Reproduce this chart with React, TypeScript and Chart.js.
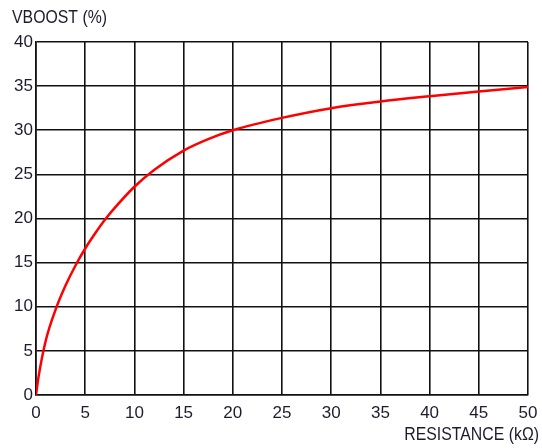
import React, { useEffect, useRef } from "react";
import { Chart, registerables } from "chart.js";

Chart.register(...registerables);

const resistance = [0, 0.25, 1, 2, 3, 4, 5, 6, 7, 8, 10, 12, 15, 17.5, 20, 25, 30, 35, 40, 45, 50];
const vboost = [0, 2, 6.2, 9.7, 12.4, 14.65, 16.6, 18.3, 19.85, 21.2, 23.6, 25.5, 27.7, 29, 30, 31.4, 32.5, 33.25, 33.85, 34.4, 34.9];
const xTicks = [0, 5, 10, 15, 20, 25, 30, 35, 40, 45, 50];
const yTicks = [0, 5, 10, 15, 20, 25, 30, 35, 40];
const yTitle = "VBOOST (%)";
const xTitle = "RESISTANCE (kΩ)";

const FONT = "'Liberation Sans', Arial, sans-serif";
const TEXT = "#1c1c2e";

export default function App() {
  const ref = useRef<HTMLCanvasElement | null>(null);
  useEffect(() => {
    document.body.style.margin = "0";
    const ctx = ref.current!.getContext("2d")!;
    const titles = {
      id: "titles",
      afterDraw(chart: any) {
        const c = chart.ctx;
        c.save();
        c.fillStyle = TEXT;
        c.font = `18px ${FONT}`;
        c.textBaseline = "middle";
        c.save();
        c.translate(12, 18);
        c.scale(0.88, 1);
        c.textAlign = "left";
        c.fillText(yTitle, 0, 0);
        c.restore();
        c.save();
        c.translate(539, 435);
        c.scale(0.88, 1);
        c.textAlign = "right";
        c.fillText(xTitle, 0, 0);
        c.restore();
        c.restore();
      },
    };
    const chart = new Chart(ctx, {
      type: "scatter",
      data: {
        datasets: [
          {
            data: resistance.map((x, i) => ({ x, y: vboost[i] })),
            showLine: true,
            borderColor: "#ff0000",
            borderWidth: 2.5,
            pointRadius: 0,
            cubicInterpolationMode: "monotone",
            fill: false,
          },
        ],
      },
      options: {
        animation: false,
        responsive: false,
        devicePixelRatio: 1,
        layout: { padding: { top: 42, right: 14, left: 0, bottom: 0 } },
        plugins: { legend: { display: false }, tooltip: { enabled: false } },
        scales: {
          x: {
            type: "linear",
            min: 0,
            max: 50,
            afterBuildTicks: (s: any) => {
              s.ticks = xTicks.map((v) => ({ value: v }));
            },
            afterFit: (s: any) => {
              s.height = 53;
              s.paddingRight = 0;
              s.paddingLeft = 0;
            },
            grid: { color: "#111", lineWidth: 1.6, drawTicks: false },
            border: { color: "#111", width: 1.6 },
            ticks: { color: TEXT, font: { family: FONT, size: 17 }, padding: 8, maxRotation: 0, autoSkip: false },
          },
          y: {
            type: "linear",
            min: 0,
            max: 40,
            afterBuildTicks: (s: any) => {
              s.ticks = yTicks.map((v) => ({ value: v }));
            },
            afterFit: (s: any) => {
              s.width = 36;
              s.paddingTop = 0;
              s.paddingBottom = 0;
            },
            grid: { color: "#111", lineWidth: 1.6, drawTicks: false },
            border: { color: "#111", width: 1.6 },
            ticks: { color: TEXT, font: { family: FONT, size: 17 }, padding: 3, autoSkip: false },
          },
        },
      },
      plugins: [titles],
    } as any);
    return () => chart.destroy();
  }, []);
  return <canvas ref={ref} width={542} height={448} style={{ display: "block" }} />;
}
